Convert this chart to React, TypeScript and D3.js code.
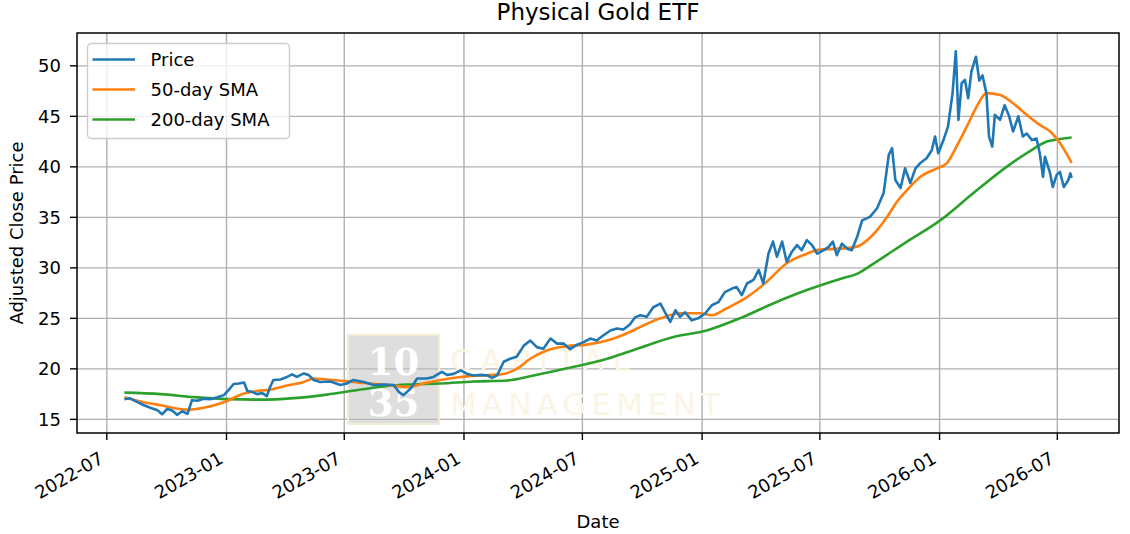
import React from "react";
import * as d3 from "d3";

// Physical Gold ETF – price with 50/200-day simple moving averages

const priceDates = [
  "2022-07-28", "2022-08-05", "2022-08-14", "2022-08-27", "2022-09-06", "2022-09-17", "2022-09-24",
  "2022-10-02", "2022-10-10", "2022-10-17", "2022-10-25", "2022-11-02", "2022-11-09", "2022-11-17",
  "2022-11-27", "2022-12-07", "2022-12-18", "2022-12-28", "2023-01-04", "2023-01-12", "2023-01-20",
  "2023-01-28", "2023-02-02", "2023-02-10", "2023-02-17", "2023-02-25", "2023-03-04", "2023-03-09",
  "2023-03-14", "2023-03-25", "2023-04-04", "2023-04-12", "2023-04-19", "2023-04-30", "2023-05-07",
  "2023-05-15", "2023-05-25", "2023-06-10", "2023-06-25", "2023-07-05", "2023-07-15", "2023-07-31",
  "2023-08-15", "2023-08-31", "2023-09-15", "2023-09-23", "2023-09-30", "2023-10-11", "2023-10-21",
  "2023-11-05", "2023-11-15", "2023-11-28", "2023-12-06", "2023-12-16", "2023-12-27", "2024-01-06",
  "2024-01-16", "2024-01-27", "2024-02-06", "2024-02-13", "2024-02-21", "2024-03-02", "2024-03-12",
  "2024-03-22", "2024-04-02", "2024-04-12", "2024-04-22", "2024-05-02", "2024-05-13", "2024-05-23",
  "2024-06-02", "2024-06-12", "2024-06-23", "2024-07-03", "2024-07-13", "2024-07-23", "2024-08-02",
  "2024-08-13", "2024-08-23", "2024-09-02", "2024-09-12", "2024-09-20", "2024-09-28", "2024-10-08",
  "2024-10-18", "2024-10-29", "2024-11-05", "2024-11-13", "2024-11-21", "2024-11-28", "2024-12-06",
  "2024-12-16", "2024-12-26", "2025-01-06", "2025-01-16", "2025-01-26", "2025-02-05", "2025-02-16",
  "2025-02-23", "2025-03-03", "2025-03-11", "2025-03-21", "2025-03-29", "2025-04-05", "2025-04-13",
  "2025-04-20", "2025-04-26", "2025-05-04", "2025-05-11", "2025-05-19", "2025-05-27", "2025-06-03",
  "2025-06-11", "2025-06-19", "2025-06-27", "2025-07-07", "2025-07-15", "2025-07-21", "2025-07-27",
  "2025-08-04", "2025-08-12", "2025-08-19", "2025-08-27", "2025-09-04", "2025-09-16", "2025-09-27",
  "2025-10-07", "2025-10-15", "2025-10-20", "2025-10-25", "2025-11-02", "2025-11-09", "2025-11-17",
  "2025-11-25", "2025-12-02", "2025-12-12", "2025-12-20", "2025-12-25", "2025-12-30", "2026-01-07",
  "2026-01-14", "2026-01-21", "2026-01-26", "2026-01-30", "2026-02-04", "2026-02-09", "2026-02-14",
  "2026-02-19", "2026-02-26", "2026-03-03", "2026-03-08", "2026-03-14", "2026-03-18", "2026-03-23",
  "2026-03-27", "2026-04-04", "2026-04-11", "2026-04-18", "2026-04-24", "2026-05-02", "2026-05-09",
  "2026-05-15", "2026-05-23", "2026-05-30", "2026-06-04", "2026-06-09", "2026-06-12", "2026-06-20",
  "2026-06-24", "2026-06-30", "2026-07-05", "2026-07-11", "2026-07-18", "2026-07-21", "2026-07-23",
];

const priceValues = [
  17.0, 17.1, 16.8, 16.4, 16.15, 15.9, 15.5,
  16.05, 15.85, 15.45, 15.8, 15.55, 16.9, 16.85,
  17.05, 17.0, 17.2, 17.4, 17.9, 18.5, 18.55,
  18.65, 17.8, 17.7, 17.5, 17.6, 17.3, 18.2,
  18.9, 18.95, 19.2, 19.45, 19.2, 19.55, 19.4,
  18.9, 18.7, 18.75, 18.4, 18.55, 18.9, 18.7,
  18.4, 18.45, 18.4, 17.7, 17.4, 18.05, 19.05,
  19.05, 19.2, 19.7, 19.4, 19.5, 19.85, 19.5,
  19.35, 19.4, 19.35, 19.1, 19.35, 20.7, 21.0,
  21.2, 22.3, 22.8, 22.15, 22.0, 23.0, 22.5,
  22.5, 21.95, 22.4, 22.65, 23.0, 22.8, 23.3,
  23.8, 24.0, 23.9, 24.4, 25.1, 25.3, 25.15,
  26.1, 26.45, 25.6, 24.65, 25.8, 25.15, 25.6,
  24.8, 25.0, 25.5, 26.3, 26.6, 27.6, 27.95,
  28.1, 27.3, 28.45, 28.8, 29.8, 28.45, 31.4,
  32.6, 31.1, 32.6, 30.6, 31.6, 32.25, 31.75,
  32.75, 32.25, 31.4, 31.75, 32.1, 32.6, 31.25,
  32.4, 31.9, 31.75, 33.0, 34.7, 35.05, 35.9,
  37.4, 41.2, 41.85, 38.7, 37.9, 39.85, 38.4,
  39.85, 40.35, 40.85, 41.65, 43.0, 41.35, 42.65,
  44.0, 47.3, 51.45, 44.65, 48.3, 48.6, 46.8,
  49.45, 50.9, 48.55, 49.05, 47.3, 43.0, 42.0,
  45.15, 44.65, 46.1, 45.0, 43.5, 45.0, 43.0,
  43.3, 42.65, 42.8, 41.35, 39.0, 41.0, 39.35,
  38.0, 39.2, 39.5, 38.0, 38.7, 39.35, 38.9,
];

const sma50Dates = [
  "2022-07-28", "2022-08-27", "2022-09-22", "2022-11-02", "2022-11-27", "2022-12-28", "2023-01-28",
  "2023-02-17", "2023-03-09", "2023-04-04", "2023-04-30", "2023-05-15", "2023-06-04", "2023-06-30",
  "2023-07-31", "2023-08-31", "2023-10-06", "2023-10-31", "2023-11-26", "2023-12-27", "2024-01-27",
  "2024-02-26", "2024-03-22", "2024-04-12", "2024-05-08", "2024-06-07", "2024-07-08", "2024-08-08",
  "2024-09-12", "2024-09-28", "2024-10-29", "2024-11-28", "2024-12-29", "2025-01-16", "2025-02-08",
  "2025-03-11", "2025-04-10", "2025-05-11", "2025-06-11", "2025-07-01", "2025-08-01", "2025-08-27",
  "2025-09-21", "2025-10-12", "2025-10-27", "2025-11-12", "2025-12-02", "2025-12-28", "2026-01-12",
  "2026-01-27", "2026-02-12", "2026-02-27", "2026-03-14", "2026-04-04", "2026-04-24", "2026-05-15",
  "2026-06-04", "2026-06-20", "2026-07-05", "2026-07-23",
];

const sma50Values = [
  17.2, 16.7, 16.4, 15.95, 16.15, 16.7, 17.55,
  17.8, 17.95, 18.35, 18.7, 19.05, 18.95, 18.8,
  18.6, 18.45, 18.2, 18.55, 18.9, 19.2, 19.35,
  19.45, 20.0, 21.0, 21.85, 22.25, 22.4, 22.8,
  23.65, 24.15, 25.0, 25.5, 25.5, 25.3, 26.0,
  27.1, 28.6, 30.45, 31.4, 31.8, 31.9, 32.1,
  33.3, 35.0, 36.5, 37.7, 39.0, 39.85, 40.35,
  42.0, 44.0, 45.95, 47.3, 47.1, 46.3, 45.15,
  44.15, 43.5, 42.35, 40.4,
];

const sma200Dates = [
  "2022-07-28", "2022-09-22", "2022-11-12", "2023-01-02", "2023-02-22", "2023-04-14", "2023-06-04",
  "2023-07-26", "2023-09-05", "2023-10-06", "2023-11-26", "2024-01-16", "2024-03-07", "2024-04-17",
  "2024-06-18", "2024-08-08", "2024-09-28", "2024-11-18", "2025-01-08", "2025-02-28", "2025-04-21",
  "2025-06-11", "2025-08-01", "2025-08-27", "2025-09-21", "2025-11-12", "2026-01-02", "2026-02-22",
  "2026-04-14", "2026-05-15", "2026-06-15", "2026-07-05", "2026-07-23",
];

const sma200Values = [
  17.65, 17.5, 17.2, 17.0, 16.95, 17.1, 17.45,
  17.95, 18.3, 18.45, 18.55, 18.75, 18.85, 19.35,
  20.2, 21.0, 22.1, 23.15, 23.8, 25.0, 26.5,
  27.8, 28.9, 29.4, 30.4, 32.6, 34.7, 37.4,
  40.0, 41.35, 42.5, 42.75, 42.9,
];

const xTickLabels = ["2022-07", "2023-01", "2023-07", "2024-01", "2024-07", "2025-01", "2025-07", "2026-01", "2026-07"];
const yTicks = [15, 20, 25, 30, 35, 40, 45, 50];

const seriesNames = ["Price", "50-day SMA", "200-day SMA"];
const seriesColors = ["#1f77b4", "#ff7f0e", "#2ca02c"];

const width = 1130;
const height = 534;
const margin = { top: 33, right: 11, bottom: 101, left: 77 };
const FONT = "DejaVu Sans, sans-serif";

type Pt = { date: Date; value: number };

const parseDate = d3.utcParse("%Y-%m-%d");
const parseMonth = d3.utcParse("%Y-%m");

const toPoints = (dates: string[], values: number[]): Pt[] =>
  dates.map((d, i) => ({ date: parseDate(d) as Date, value: values[i] }));

const App: React.FC = () => {
  const innerWidth = width - margin.left - margin.right;
  const innerHeight = height - margin.top - margin.bottom;

  const price = toPoints(priceDates, priceValues);
  const sma50 = toPoints(sma50Dates, sma50Values);
  const sma200 = toPoints(sma200Dates, sma200Values);
  const all = [...price, ...sma50, ...sma200];

  // matplotlib-style 5% margins around the data
  const [x0, x1] = d3.extent(all, (d) => +d.date) as [number, number];
  const [y0, y1] = d3.extent(all, (d) => d.value) as [number, number];
  const xPad = (x1 - x0) * 0.05;
  const yPad = (y1 - y0) * 0.05;

  const xScale = d3
    .scaleUtc()
    .domain([new Date(x0 - xPad), new Date(x1 + xPad)])
    .range([0, innerWidth]);

  const yScale = d3
    .scaleLinear()
    .domain([y0 - yPad, y1 + yPad])
    .range([innerHeight, 0]);

  const linePath = d3
    .line<Pt>()
    .x((d) => xScale(d.date))
    .y((d) => yScale(d.value));

  const smoothPath = d3
    .line<Pt>()
    .x((d) => xScale(d.date))
    .y((d) => yScale(d.value))
    .curve(d3.curveMonotoneX);

  const xTicks = xTickLabels.map((t) => ({ label: t, date: parseMonth(t) as Date }));

  const gridColor = "#b0b0b0";
  const tickFont = 18;

  // watermark box, in plot coordinates
  const wm = { x: 348 - margin.left, y: 335 - margin.top, w: 91, h: 89 };

  return (
    <svg
      width={width}
      height={height}
      style={{ position: "absolute", left: 0, top: 0, background: "#fff" }}
      fontFamily={FONT}
    >
      <rect width={width} height={height} fill="#fff" />

      <text x={margin.left + innerWidth / 2} y={19.5} textAnchor="middle" fontSize={23} fill="#000">
        Physical Gold ETF
      </text>

      <g transform={`translate(${margin.left},${margin.top})`}>
        {/* grid */}
        {xTicks.map((t) => (
          <line
            key={"gx" + t.label}
            x1={xScale(t.date)}
            x2={xScale(t.date)}
            y1={0}
            y2={innerHeight}
            stroke={gridColor}
            strokeWidth={1.4}
          />
        ))}
        {yTicks.map((v) => (
          <line
            key={"gy" + v}
            x1={0}
            x2={innerWidth}
            y1={yScale(v)}
            y2={yScale(v)}
            stroke={gridColor}
            strokeWidth={1.4}
          />
        ))}

        {/* watermark */}
        <rect
          x={wm.x}
          y={wm.y}
          width={wm.w}
          height={wm.h}
          fill="#bdbdbd"
          fillOpacity={0.5}
          stroke="#f5ecd8"
          strokeWidth={2}
        />
        <text
          x={wm.x + wm.w / 2}
          y={wm.y + 40}
          textAnchor="middle"
          fontFamily="DejaVu Serif, serif"
          fontWeight="bold"
          fontSize={37}
          fill="#fff"
        >
          10
        </text>
        <text
          x={wm.x + wm.w / 2}
          y={wm.y + 81}
          textAnchor="middle"
          fontFamily="DejaVu Serif, serif"
          fontWeight="bold"
          fontSize={37}
          fill="#fff"
        >
          35
        </text>
        <text x={wm.x + 102} y={wm.y + 36} fontSize={31} fill="#fcf4e4" textLength={180} lengthAdjust="spacing">
          CAPITAL
        </text>
        <text x={wm.x + 102} y={wm.y + 80} fontSize={31} fill="#fcf4e4" textLength={270} lengthAdjust="spacing">
          MANAGEMENT
        </text>

        {/* series */}
        <path d={smoothPath(sma200) ?? ""} fill="none" stroke={seriesColors[2]} strokeWidth={2.6} strokeLinejoin="round" />
        <path d={smoothPath(sma50) ?? ""} fill="none" stroke={seriesColors[1]} strokeWidth={2.6} strokeLinejoin="round" />
        <path d={linePath(price) ?? ""} fill="none" stroke={seriesColors[0]} strokeWidth={2.6} strokeLinejoin="round" />

        {/* axes frame */}
        <rect x={0} y={0} width={innerWidth} height={innerHeight} fill="none" stroke="#000" strokeWidth={1.5} />

        {/* y ticks */}
        {yTicks.map((v) => (
          <g key={"yt" + v} transform={`translate(0,${yScale(v)})`}>
            <line x1={-7} x2={0} stroke="#000" strokeWidth={1.4} />
            <text x={-16} dy="0.36em" textAnchor="end" fontSize={tickFont} fill="#000">
              {v}
            </text>
          </g>
        ))}

        {/* x ticks */}
        {xTicks.map((t) => {
          const tx = xScale(t.date);
          const ax = tx - 2;
          const ay = innerHeight + 29;
          return (
            <g key={"xt" + t.label}>
              <line x1={tx} x2={tx} y1={innerHeight} y2={innerHeight + 7} stroke="#000" strokeWidth={1.4} />
              <text
                x={ax}
                y={ay}
                textAnchor="end"
                fontSize={tickFont}
                fill="#000"
                transform={`rotate(-30,${ax},${ay})`}
              >
                {t.label}
              </text>
            </g>
          );
        })}

        {/* legend */}
        <g transform={`translate(${87.5 - margin.left},${43.5 - margin.top})`}>
          <rect width={202} height={95} rx={4} fill="#fff" fillOpacity={0.8} stroke="#cccccc" strokeWidth={1.4} />
          {seriesNames.map((name, i) => (
            <g key={name} transform={`translate(0,${16 + i * 30})`}>
              <line x1={5} x2={47.5} stroke={seriesColors[i]} strokeWidth={2.6} />
              <text x={63} dy="0.36em" fontSize={tickFont} fill="#000">
                {name}
              </text>
            </g>
          ))}
        </g>
      </g>

      <text x={margin.left + innerWidth / 2} y={528} textAnchor="middle" fontSize={tickFont} fill="#000">
        Date
      </text>
      <text
        x={23}
        y={margin.top + innerHeight / 2}
        textAnchor="middle"
        fontSize={tickFont}
        fill="#000"
        transform={`rotate(-90,23,${margin.top + innerHeight / 2})`}
      >
        Adjusted Close Price
      </text>
    </svg>
  );
};

export default App;
